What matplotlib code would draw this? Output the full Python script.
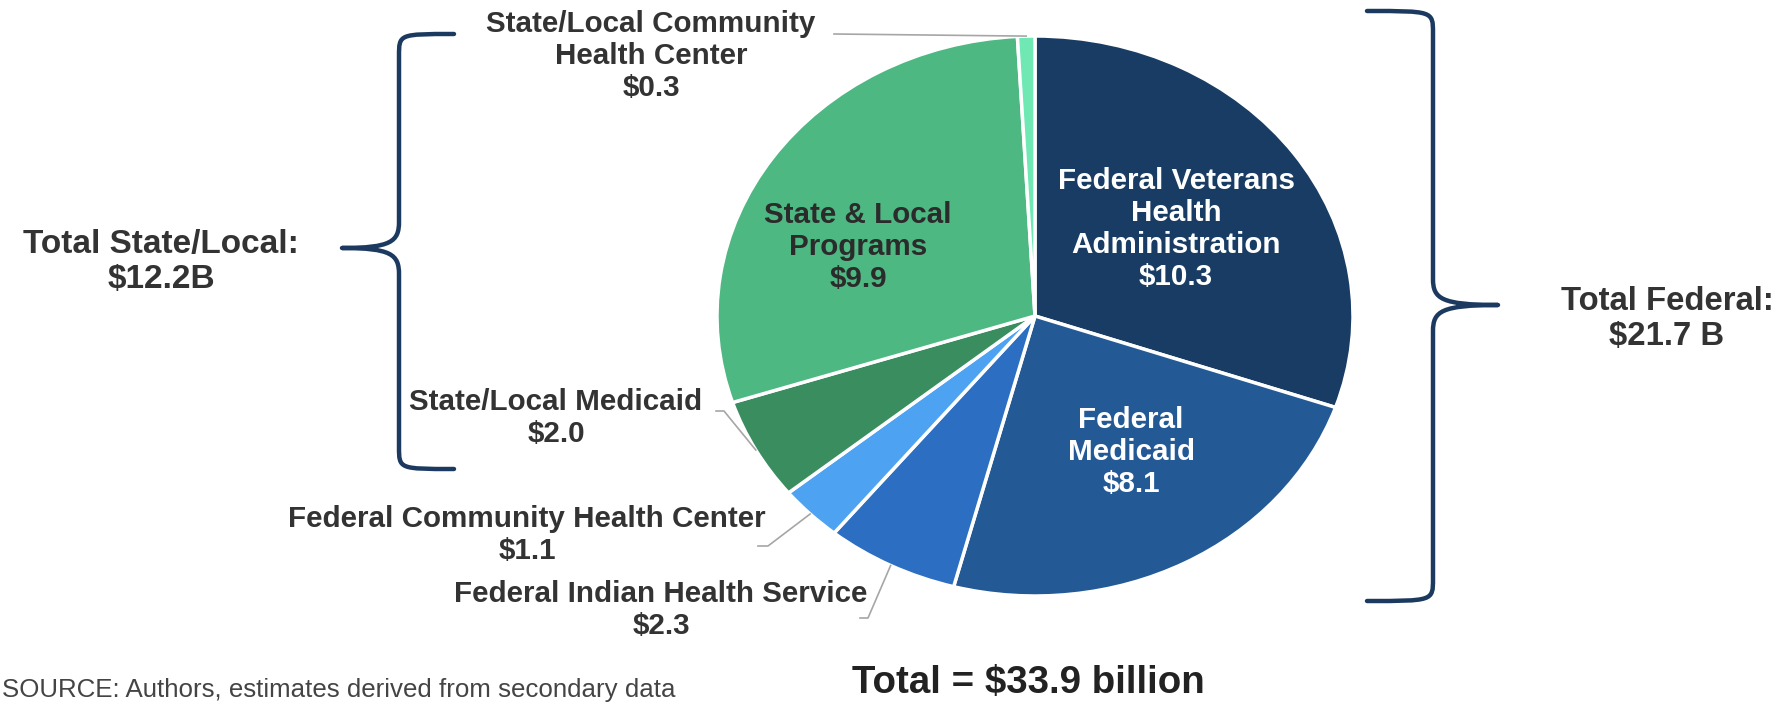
import numpy as np
import matplotlib
matplotlib.use("Agg")
import matplotlib.pyplot as plt
from matplotlib.path import Path
from matplotlib.patches import PathPatch
from matplotlib import font_manager

# ---------------- data ----------------
categories = [
    "Federal Veterans\nHealth\nAdministration",
    "Federal\nMedicaid",
    "Federal Indian Health Service",
    "Federal Community Health Center",
    "State/Local Medicaid",
    "State & Local\nPrograms",
    "State/Local Community\nHealth Center",
]
values = [10.3, 8.1, 2.3, 1.1, 2.0, 9.9, 0.3]
value_labels = ["$10.3", "$8.1", "$2.3", "$1.1", "$2.0", "$9.9", "$0.3"]
colors = ["#183C63", "#235A96", "#2C6EC2", "#4EA2F2", "#3A8D5E", "#4DB882", "#6FE8B4"]
total_label = "Total = $33.9 billion"
federal_label = "Total Federal:\n$21.7 B"
state_label = "Total State/Local:\n$12.2B"
source_label = "SOURCE: Authors, estimates derived from secondary data"

W, H = 1786, 703
DPI = 100

names = {f.name for f in font_manager.fontManager.ttflist}
FONT = "Liberation Sans" if "Liberation Sans" in names else "DejaVu Sans"
NARROW = "Liberation Sans Narrow" if "Liberation Sans Narrow" in names else FONT
plt.rcParams["font.family"] = [FONT, "DejaVu Sans"]

fig = plt.figure(figsize=(W / DPI, H / DPI), dpi=DPI)
fig.patch.set_facecolor("white")

# pie axes (elliptical pie, as in the reference)
cx, cy, rx, ry = 1035, 316, 318, 280
pax = fig.add_axes([(cx - rx) / W, (H - cy - ry) / H, 2 * rx / W, 2 * ry / H])
pax.pie(values, colors=colors, startangle=90, counterclock=False,
        wedgeprops=dict(edgecolor="white", linewidth=2.5))
pax.set_aspect("auto")
pax.set_xlim(-1, 1)
pax.set_ylim(-1, 1)
pax.axis("off")

# overlay axes in pixel coordinates (on top of the pie)
ov = fig.add_axes([0, 0, 1, 1])
ov.set_xlim(0, W)
ov.set_ylim(H, 0)
ov.axis("off")
ov.patch.set_alpha(0)
ov.set_zorder(5)

# mid angles of each wedge (in degrees, counter-clockwise from +x)
vals = np.array(values)
cum = np.cumsum(vals) - vals / 2
mid = 90 - cum / vals.sum() * 360


def edge_pt(i, r=1.0):
    a = np.deg2rad(mid[i])
    return cx + r * rx * np.cos(a), cy - r * ry * np.sin(a)


TXT = "#333333"
FS = 21.3
LS = 1.17

# inside labels
inside = {0: (1176, 229, "white"), 1: (1131, 452, "white"), 5: (858, 247, "#2b2b2b")}
for i, (x, y, c) in inside.items():
    ov.text(x, y, categories[i] + "\n" + value_labels[i], ha="center", va="center",
            fontsize=FS, fontweight="bold", color=c, linespacing=LS, zorder=5)

# outside labels
outside = {6: (651, 56), 4: (556, 418), 3: (527, 535), 2: (661, 610)}
for i, (x, y) in outside.items():
    ov.text(x, y, categories[i] + "\n" + value_labels[i], ha="center", va="center",
            fontsize=FS, fontweight="bold", color=TXT, linespacing=LS, zorder=5)

# leader lines
LC = "#A6A6A6"
leaders = {
    6: [(834, 34)],
    4: [(716, 411), (724, 411)],
    3: [(758, 546), (768, 546)],
    2: [(860, 618), (868, 618)],
}
for i, pts in leaders.items():
    ex, ey = edge_pt(i, 1.0)
    xs = [p[0] for p in pts] + [ex]
    ys = [p[1] for p in pts] + [ey]
    ov.plot(xs, ys, color=LC, lw=1.2, zorder=4)


# braces
def brace(x, y0, y1, ym, tip_x, end_x, r=22, r2=26):
    d = np.sign(tip_x - x)
    verts = [
        (end_x, y0),
        (x, y0), (x, y0), (x, y0 + r),
        (x, ym - r2),
        (x, ym - r2 * 0.25), (x + d * 8, ym), (tip_x, ym),
        (x + d * 8, ym), (x, ym + r2 * 0.25), (x, ym + r2),
        (x, y1 - r),
        (x, y1), (x, y1), (end_x, y1),
    ]
    codes = [Path.MOVETO,
             Path.CURVE4, Path.CURVE4, Path.CURVE4,
             Path.LINETO,
             Path.CURVE4, Path.CURVE4, Path.CURVE4,
             Path.CURVE4, Path.CURVE4, Path.CURVE4,
             Path.LINETO,
             Path.CURVE4, Path.CURVE4, Path.CURVE4]
    ov.add_patch(PathPatch(Path(verts, codes), fill=False, edgecolor="#1C3A60",
                           lw=3.2, capstyle="round", joinstyle="round", zorder=3))


brace(399, 34, 469, 248, 342, 454)
brace(1433, 11, 601, 305, 1498, 1367)

ov.text(161, 262, state_label, ha="center", va="center", fontsize=24,
        fontweight="bold", color=TXT, linespacing=1.2)
ov.text(1667, 319, federal_label, ha="center", va="center", fontsize=23.7,
        fontweight="bold", color=TXT, linespacing=1.2)
ov.text(1028, 701, total_label, ha="center", va="bottom", fontsize=27.7,
        fontweight="bold", color="#222222")
ov.text(2, 702, source_label, ha="left", va="bottom", fontsize=18.6,
        color="#444444", family=[NARROW, "DejaVu Sans"])

fig.savefig("out.png", dpi=DPI, facecolor="white")
